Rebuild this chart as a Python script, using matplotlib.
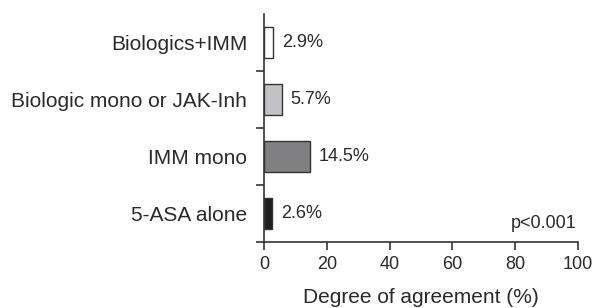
import matplotlib
matplotlib.use("Agg")
import matplotlib.pyplot as plt
import numpy as np

plt.rcParams['font.family'] = ['Liberation Sans', 'DejaVu Sans']

categories = ["5-ASA alone", "IMM mono", "Biologic mono or JAK-Inh", "Biologics+IMM"]
values = [2.6, 14.5, 5.7, 2.9]
colors = ["#1e1e1e", "#808082", "#c2c2c6", "#ffffff"]

fig = plt.figure(figsize=(6, 3.08), dpi=100)
ax = fig.add_axes([0.44, 0.2143, 0.5233, 0.7402])

y = np.arange(len(categories))
ax.barh(y, values, height=0.54, color=colors, edgecolor="#333333", linewidth=1.0)
for yi, v in zip(y, values):
    ax.text(v + 2.8, yi, "%.1f%%" % v, va="center", ha="left", fontsize=13, color="#2a2a2a")

ax.set_xlim(0, 100)
ax.set_ylim(-0.5, 3.5)
ax.set_xticks([0, 20, 40, 60, 80, 100])
ax.set_yticks([-0.5, 0.5, 1.5, 2.5])
ax.set_yticklabels([])
ax.set_yticks(y, minor=True)
ax.set_yticklabels(categories, minor=True, fontsize=15)
ax.tick_params(axis="y", which="minor", length=0, pad=12)
ax.tick_params(axis="y", which="major", length=6, width=1.2, direction="out", color="#333333")
ax.tick_params(axis="x", length=6, width=1.2, direction="out", labelsize=13, pad=4, color="#333333")
for lab in ax.get_xticklabels():
    lab.set_color("#2a2a2a")
for lab in ax.get_yticklabels(minor=True):
    lab.set_color("#2a2a2a")

ax.spines["top"].set_visible(False)
ax.spines["right"].set_visible(False)
ax.spines["left"].set_linewidth(1.2)
ax.spines["bottom"].set_linewidth(1.2)
ax.spines["left"].set_color("#333333")
ax.spines["bottom"].set_color("#333333")

ax.set_xlabel("Degree of agreement (%)", fontsize=15, color="#2a2a2a", labelpad=11)
ax.text(99.5, -0.17, "p<0.001", ha="right", va="center", fontsize=13, color="#2a2a2a")

fig.savefig("out.png", dpi=100)
